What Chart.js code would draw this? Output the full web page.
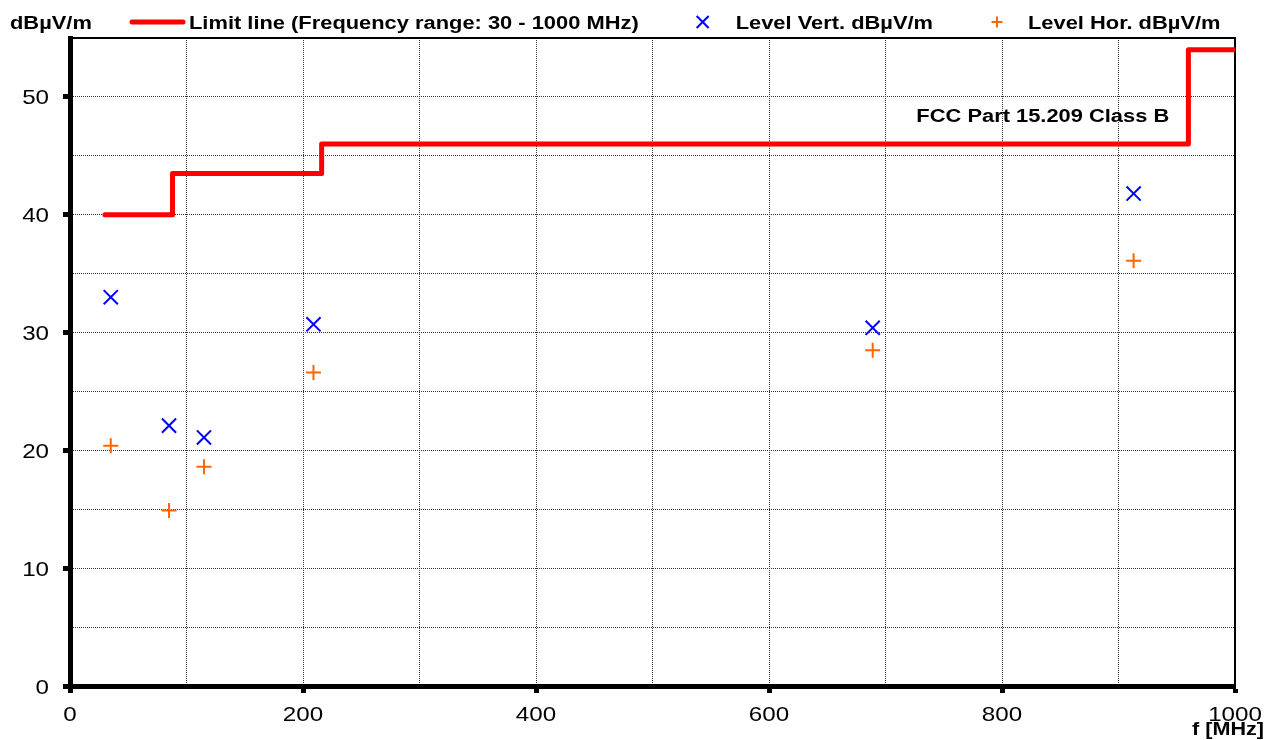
<!DOCTYPE html>
<html>
<head>
<meta charset="utf-8">
<title>FCC Part 15.209 Class B</title>
<script src="https://cdn.jsdelivr.net/npm/chart.js@4/dist/chart.umd.min.js"></script>
<style>
  html, body { margin: 0; padding: 0; background: #fff; }
  #wrap { width: 1266px; height: 740px; }
</style>
</head>
<body>
<div id="wrap"><canvas id="chart" width="1266" height="740"></canvas></div>
<script>
// limit line (stepped, MHz / dBµV/m)
const limitFreq = [30, 88, 88, 216, 216, 960, 960, 1000];
const limitLevel = [40, 40, 43.5, 43.5, 46, 46, 54, 54];

// measured peaks
const peakFreq = [35, 85, 115, 209, 689, 913];
const levelVert = [33.0, 22.1, 21.1, 30.7, 30.4, 41.8];
const levelHor = [20.4, 14.9, 18.6, 26.6, 28.5, 36.1];

const xTickLabels = [0, 200, 400, 600, 800, 1000];
const yTickLabels = [0, 10, 20, 30, 40, 50];

const seriesNames = [
  "Limit line (Frequency range: 30 - 1000 MHz)",
  "Level Vert. dBµV/m",
  "Level Hor. dBµV/m"
];
const yUnit = "dBµV/m";
const xUnit = "f [MHz]";
const limitName = "FCC Part 15.209 Class B";
const limitNameAt = [835, 48.4];

const FONT = '"Liberation Sans", Arial, Helvetica, sans-serif';
const RED = "#ff0000";
const BLUE = "#0000ff";
const ORANGE = "#ff6600";

function toPoints(xs, ys) {
  return xs.map((x, i) => ({ x: x, y: ys[i] }));
}

// the source picture uses a horizontally stretched Arial
function stretchText(ctx, text, x, y, align, font, sx) {
  ctx.save();
  ctx.font = font;
  ctx.textAlign = align;
  ctx.textBaseline = "alphabetic";
  ctx.fillStyle = "#000";
  ctx.translate(x, y);
  ctx.scale(sx, 1);
  ctx.fillText(text, 0, 0);
  ctx.restore();
}

function textWidth(ctx, text, font, sx) {
  ctx.save();
  ctx.font = font;
  const w = ctx.measureText(text).width * sx;
  ctx.restore();
  return w;
}

function drawMarker(ctx, style, x, y, r, color) {
  ctx.save();
  ctx.strokeStyle = color;
  ctx.lineWidth = 2;
  ctx.beginPath();
  if (style === "crossRot") {
    const d = r * Math.SQRT1_2;
    ctx.moveTo(x - d, y - d); ctx.lineTo(x + d, y + d);
    ctx.moveTo(x - d, y + d); ctx.lineTo(x + d, y - d);
  } else {
    ctx.moveTo(x - r, y); ctx.lineTo(x + r, y);
    ctx.moveTo(x, y - r); ctx.lineTo(x, y + r);
  }
  ctx.stroke();
  ctx.restore();
}

const paintPlugin = {
  id: "paint",
  beforeDatasetsDraw(chart) {
    const { ctx, chartArea: a } = chart;
    ctx.save();
    ctx.strokeStyle = "#000";
    ctx.lineWidth = 2;
    ctx.beginPath();
    ctx.moveTo(a.left, a.top);
    ctx.lineTo(a.right, a.top);
    ctx.lineTo(a.right, a.bottom);
    ctx.stroke();
    ctx.restore();
  },
  afterDraw(chart) {
    const { ctx, scales } = chart;
    const x = scales.x, y = scales.y;
    const tickFont = "21px " + FONT;
    const boldFont = "bold 18px " + FONT;
    const SX = 1.215;

    xTickLabels.forEach((v) => {
      stretchText(ctx, String(v), x.getPixelForValue(v), 721, "center", tickFont, 1.15);
    });
    yTickLabels.forEach((v) => {
      stretchText(ctx, String(v), 49, y.getPixelForValue(v) + 7.5, "right", tickFont, 1.15);
    });

    stretchText(ctx, yUnit, 10, 28.5, "left", boldFont, SX);
    stretchText(ctx, xUnit, 1264, 735, "right", boldFont, 1.2);

    stretchText(ctx, limitName, x.getPixelForValue(limitNameAt[0]),
      y.getPixelForValue(limitNameAt[1]) + 6.5, "center", boldFont, SX);

    // legend row
    const ly = 22;
    let lx = 130;
    ctx.save();
    ctx.strokeStyle = RED;
    ctx.lineWidth = 5;
    ctx.lineCap = "round";
    ctx.beginPath();
    ctx.moveTo(lx + 2, ly);
    ctx.lineTo(lx + 53, ly);
    ctx.stroke();
    ctx.restore();
    lx += 59;
    const ds = chart.data.datasets;
    stretchText(ctx, ds[0].label, lx, ly + 6.5, "left", boldFont, SX);
    lx += textWidth(ctx, ds[0].label, boldFont, SX) + 64;
    drawMarker(ctx, "crossRot", lx, ly, 8.5, BLUE);
    lx += 33;
    stretchText(ctx, ds[1].label, lx, ly + 6.5, "left", boldFont, SX);
    lx += textWidth(ctx, ds[1].label, boldFont, SX) + 64;
    drawMarker(ctx, "cross", lx, ly, 5.5, ORANGE);
    lx += 31;
    stretchText(ctx, ds[2].label, lx, ly + 6.5, "left", boldFont, SX);
  }
};

const gridTick = (step) => (c) =>
  c.tick && Math.abs(c.tick.value % step) < 1e-9 ? "#000" : "rgba(0,0,0,0)";

new Chart(document.getElementById("chart"), {
  type: "scatter",
  data: {
    datasets: [
      {
        label: seriesNames[0],
        data: toPoints(limitFreq, limitLevel),
        showLine: true,
        borderColor: RED,
        backgroundColor: RED,
        borderWidth: 5,
        borderCapStyle: "round",
        borderJoinStyle: "round",
        pointRadius: 0,
        tension: 0,
        order: 3
      },
      {
        label: seriesNames[1],
        data: toPoints(peakFreq, levelVert),
        pointStyle: "crossRot",
        pointRadius: 10,
        pointBorderWidth: 2,
        borderColor: BLUE,
        backgroundColor: BLUE,
        order: 1
      },
      {
        label: seriesNames[2],
        data: toPoints(peakFreq, levelHor),
        pointStyle: "cross",
        pointRadius: 7.5,
        pointBorderWidth: 2,
        borderColor: ORANGE,
        backgroundColor: ORANGE,
        order: 2
      }
    ]
  },
  options: {
    responsive: false,
    animation: false,
    devicePixelRatio: 1,
    layout: { padding: { top: 38, right: 31, bottom: 0, left: 0 } },
    plugins: {
      legend: { display: false },
      tooltip: { enabled: false }
    },
    scales: {
      x: {
        type: "linear",
        position: "bottom",
        min: 0,
        max: 1000,
        afterFit: (s) => { s.height = 54; },
        ticks: { stepSize: 100, display: false },
        grid: {
          color: "#333",
          lineWidth: 1,
          drawTicks: true,
          tickLength: 7,
          tickWidth: 5,
          tickColor: gridTick(200)
        },
        border: { display: true, color: "#000", width: 5, dash: [1, 1] }
      },
      y: {
        type: "linear",
        position: "left",
        min: 0,
        max: 55,
        afterFit: (s) => { s.width = 70; },
        ticks: { stepSize: 5, display: false },
        grid: {
          color: "#333",
          lineWidth: 1,
          drawTicks: true,
          tickLength: 7,
          tickWidth: 5,
          tickColor: gridTick(10)
        },
        border: { display: true, color: "#000", width: 5, dash: [1, 1] }
      }
    }
  },
  plugins: [paintPlugin]
});
</script>
</body>
</html>
